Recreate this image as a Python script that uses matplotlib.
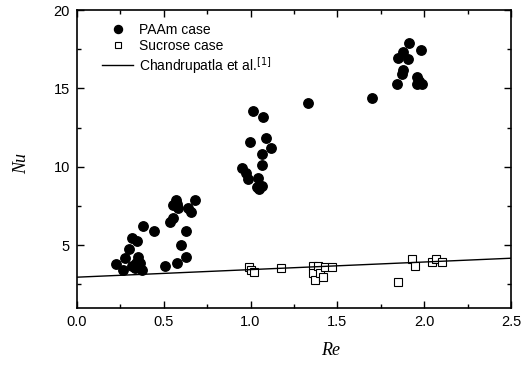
import numpy as np
import matplotlib
matplotlib.use("Agg")
import matplotlib.pyplot as plt
from matplotlib.ticker import MultipleLocator

# PAAm case (filled circles)
paam_re = [0.225, 0.265, 0.28, 0.30, 0.32, 0.345, 0.315, 0.335, 0.35, 0.365, 0.375, 0.34,
           0.38, 0.445, 0.51, 0.575, 0.63, 0.60, 0.63, 0.535, 0.555, 0.575, 0.555, 0.58,
           0.64, 0.655, 0.68, 0.57,
           1.015, 1.07, 0.995, 1.09, 1.12, 1.065, 1.065, 0.95, 0.975, 0.985, 1.045, 1.035,
           1.065, 1.05,
           1.33, 1.70,
           1.91, 1.98, 1.85, 1.88, 1.905, 1.88, 1.87, 1.845, 1.96, 1.97, 1.96, 1.99]
paam_nu = [3.8, 3.4, 4.2, 4.75, 5.45, 5.3, 3.7, 3.55, 4.25, 3.85, 3.45, 3.85,
           6.25, 5.9, 3.7, 3.85, 4.25, 5.0, 5.9, 6.5, 6.75, 7.65, 7.55, 7.35,
           7.35, 7.1, 7.9, 7.9,
           13.55, 13.2, 11.6, 11.85, 11.2, 10.8, 10.1, 9.9, 9.6, 9.25, 9.3, 8.7,
           8.8, 8.6,
           14.05, 14.4,
           17.9, 17.45, 16.95, 17.3, 16.9, 16.2, 15.9, 15.3, 15.75, 15.45, 15.25, 15.25]

# Sucrose case (open squares)
suc_re = [0.99, 1.00, 1.02, 1.175, 1.36, 1.36, 1.37, 1.39, 1.40, 1.42, 1.43, 1.47,
          1.85, 1.93, 1.95, 2.045, 2.07, 2.10]
suc_nu = [3.6, 3.4, 3.3, 3.55, 3.7, 3.2, 2.8, 3.65, 3.2, 3.0, 3.6, 3.6,
          2.65, 4.1, 3.7, 3.95, 4.1, 3.95]

# Chandrupatla et al. correlation (end points)
corr_re = [0.0, 2.5]
corr_nu = [2.96, 4.17]

plt.rcParams['font.family'] = ['Liberation Sans', 'DejaVu Sans']
plt.rcParams['font.size'] = 10

fig = plt.figure(figsize=(5.23, 3.71), dpi=100)
ax = fig.add_axes([0.147, 0.170, 0.830, 0.803])

ax.plot(paam_re, paam_nu, 'o', color='black', markersize=6.8, label='PAAm case')
ax.plot(suc_re, suc_nu, 's', markerfacecolor='white', markeredgecolor='black',
        markeredgewidth=0.8, markersize=5.5, label='Sucrose case')
ax.plot(corr_re, corr_nu, '-', color='black', linewidth=1.0,
        label='Chandrupatla et al.$^{[1]}$')

ax.set_xlim(0, 2.5)
ax.set_ylim(1, 20)
ax.xaxis.set_major_locator(MultipleLocator(0.5))
ax.xaxis.set_minor_locator(MultipleLocator(0.25))
ax.yaxis.set_major_locator(MultipleLocator(5))
ax.yaxis.set_minor_locator(MultipleLocator(2.5))
ax.tick_params(which='both', direction='in', top=True, right=True, width=1.0,
               labelsize=10.5)
ax.tick_params(which='major', length=5, pad=5)
ax.tick_params(which='minor', length=3)
for s in ax.spines.values():
    s.set_linewidth(1.2)

ax.set_xlabel('Re', fontfamily='Liberation Serif', fontstyle='italic', fontsize=13)
ax.xaxis.set_label_coords(0.585, -0.115)
ax.set_ylabel('Nu', fontfamily='Liberation Serif', fontstyle='italic', fontsize=13)
ax.yaxis.set_label_coords(-0.107, 0.485)

leg = ax.legend(loc='upper left', frameon=False, fontsize=10, handlelength=2.2,
                handletextpad=0.4, labelspacing=0.15, borderaxespad=0.5,
                markerscale=0.85, bbox_to_anchor=(0.03, 1.0))

fig.savefig('out.png', dpi=100)
